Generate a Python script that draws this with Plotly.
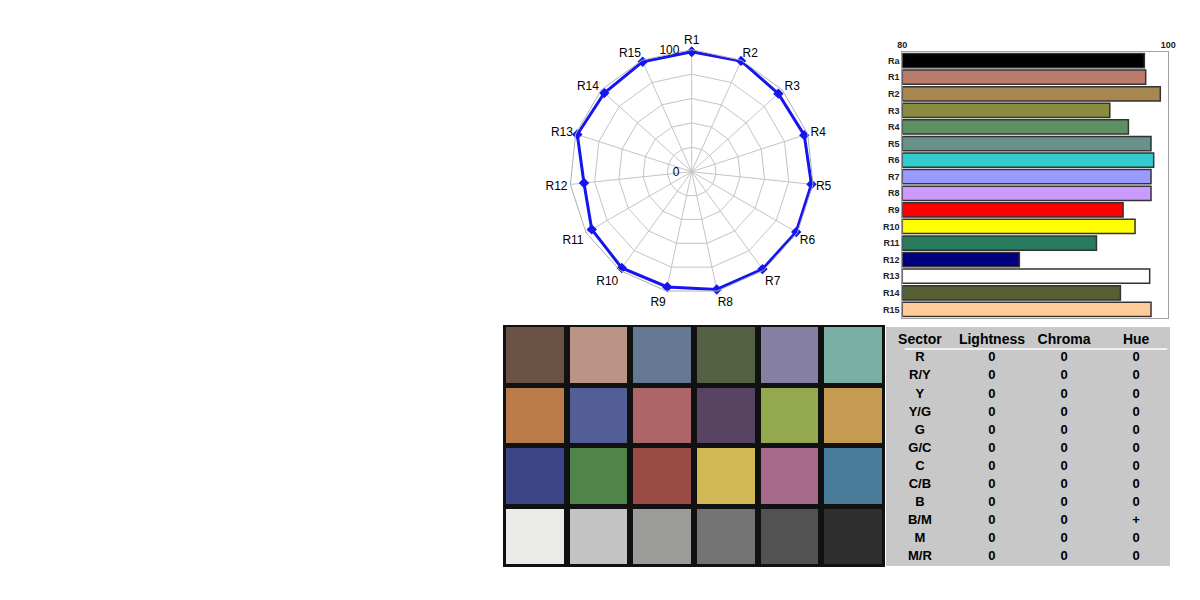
import plotly.graph_objects as go

# ---------------- data ----------------
radar_cats = ["R1", "R2", "R3", "R4", "R5", "R6", "R7", "R8",
              "R9", "R10", "R11", "R12", "R13", "R14", "R15"]
radar_vals = [98.3, 99.4, 95.6, 97.0, 98.7, 98.9, 98.7, 98.7,
              96.6, 97.5, 94.6, 88.8, 98.6, 96.4, 98.7]
radar_ticks = [0, 20, 40, 60, 80, 100]
radar_tick_text = ["0", "", "", "", "", "100"]

bar_cats = ["Ra", "R1", "R2", "R3", "R4", "R5", "R6", "R7", "R8",
            "R9", "R10", "R11", "R12", "R13", "R14", "R15"]
bar_vals = [98.2, 98.3, 99.4, 95.6, 97.0, 98.7, 98.9, 98.7, 98.7,
            96.6, 97.5, 94.6, 88.8, 98.6, 96.4, 98.7]
bar_colors = ["#000000", "#BC7C6C", "#A88650", "#898C3E", "#5E9162", "#679189",
              "#33CCCC", "#9999FF", "#CC99FF", "#FF0000", "#FFFF00", "#287A5C",
              "#000080", "#FFFFFF", "#565F33", "#FFCC99"]

patch_colors = [
    ["#6B5044", "#BA9585", "#657891", "#536142", "#857FA1", "#78AFA2"],
    ["#BA7A4A", "#535E96", "#AD6668", "#574462", "#94A84F", "#C69A50"],
    ["#3B4585", "#50844B", "#9B4B45", "#D0B855", "#A86A8A", "#4A7D9B"],
    ["#EBEBE9", "#C3C3C3", "#9C9C9B", "#737373", "#525252", "#2E2E2E"],
]

table_headers = ["Sector", "Lightness", "Chroma", "Hue"]
sectors = ["R", "R/Y", "Y", "Y/G", "G", "G/C", "C", "C/B", "B", "B/M", "M", "M/R"]
lightness = ["0", "0", "0", "0", "0", "0", "0", "0", "0", "0", "0", "0"]
chroma = ["0", "0", "0", "0", "0", "0", "0", "0", "0", "0", "0", "0"]
hue = ["0", "0", "0", "0", "0", "0", "0", "0", "0", "+", "0", "0"]

FONT = "Liberation Sans, Arial, sans-serif"
W, H = 1200, 600
PAD = "\u00a0\u00a0\u00a0"  # keeps radial tick labels clear of the axis

def dx(a, b):
    return [a / W, b / W]

def dy(top, bottom):
    return [1 - bottom / H, 1 - top / H]

fig = go.Figure()

# ---------------- radar ----------------
fig.add_trace(go.Scatterpolar(
    r=radar_vals + radar_vals[:1],
    theta=radar_cats + radar_cats[:1],
    mode="lines+markers",
    line=dict(color="#1515F0", width=3),
    marker=dict(symbol="diamond", size=8, color="#1515F0"),
    showlegend=False,
    hoverinfo="r+theta",
))

# ---------------- bar chart ----------------
fig.add_trace(go.Bar(
    y=bar_cats,
    x=[v - 80 for v in bar_vals],
    base=80,
    orientation="h",
    marker=dict(color=bar_colors, line=dict(color="#333333", width=1.5)),
    xaxis="x", yaxis="y",
    showlegend=False,
    customdata=bar_vals,
    hovertemplate="%{y}: %{customdata}<extra></extra>",
))

# ---------------- colour checker ----------------
flat_colors = [c for row in patch_colors for c in row]
n = len(flat_colors)
colorscale = [[k / (n - 1), c] for k, c in enumerate(flat_colors)]
z = [[r * len(patch_colors[0]) + c for c in range(len(patch_colors[0]))]
     for r in range(len(patch_colors))]
fig.add_trace(go.Heatmap(
    z=z,
    x=list(range(len(patch_colors[0]))),
    y=list(range(len(patch_colors))),
    colorscale=colorscale,
    zmin=0, zmax=n - 1,
    showscale=False,
    xgap=6, ygap=5,
    xaxis="x2", yaxis="y2",
    hoverinfo="skip",
))

# ---------------- table ----------------
fig.add_trace(go.Scatter(
    x=list(range(len(table_headers))),
    y=[0] * len(table_headers),
    text=table_headers,
    mode="text",
    textfont=dict(family=FONT, size=14, color="#000000", weight="bold"),
    xaxis="x3", yaxis="y3",
    showlegend=False, hoverinfo="skip",
))
for ci, col in enumerate([sectors, lightness, chroma, hue]):
    fig.add_trace(go.Scatter(
        x=[ci] * len(col),
        y=list(range(1, len(col) + 1)),
        text=col,
        mode="text",
        textfont=dict(family=FONT, size=13, color="#000000", weight="bold"),
        xaxis="x3", yaxis="y3",
        showlegend=False, hoverinfo="skip",
    ))

fig.update_layout(
    width=W, height=H,
    margin=dict(l=0, r=0, t=0, b=0, autoexpand=False),
    paper_bgcolor="white",
    plot_bgcolor="white",
    font=dict(family=FONT, color="#000000"),
    polar=dict(
        domain=dict(x=dx(569.7, 813.7), y=dy(49.7, 293.7)),
        bgcolor="white",
        gridshape="linear",
        angularaxis=dict(
            rotation=90, direction="clockwise",
            categoryarray=radar_cats, type="category",
            tickfont=dict(family=FONT, size=12, color="#000000"),
            showline=True, linecolor="#B0B0B0", linewidth=1,
            gridcolor="#C4C4C4", ticks="",
        ),
        radialaxis=dict(
            range=[0, 100], angle=90, side="counterclockwise",
            tickvals=radar_ticks,
            ticktext=[t + PAD if t else t for t in radar_tick_text],
            tickangle=90,
            tickfont=dict(family=FONT, size=12, color="#000000"),
            showline=False, gridcolor="#C4C4C4", ticks="",
        ),
    ),
    xaxis=dict(
        domain=dx(902.3, 1168.3), range=[80, 100], side="top",
        tickvals=[80, 100], ticktext=["80", "100"],
        tickfont=dict(family=FONT, size=9, color="#222222", weight="bold"),
        showgrid=False, zeroline=False,
        showline=True, mirror=True, linecolor="#A0A0A0", linewidth=1,
        anchor="y", fixedrange=True, automargin=False,
    ),
    yaxis=dict(
        domain=dy(52.3, 317.7), type="category",
        categoryarray=bar_cats, autorange="reversed",
        tickfont=dict(family=FONT, size=9, color="#222222", weight="bold"),
        showgrid=False, zeroline=False,
        showline=True, mirror=True, linecolor="#A0A0A0", linewidth=1,
        anchor="x", ticks="", fixedrange=True, automargin=False,
    ),
    bargap=0.14,
    xaxis2=dict(
        domain=dx(503, 885), range=[-0.5, 5.5], visible=False,
        anchor="y2", fixedrange=True, automargin=False,
    ),
    yaxis2=dict(
        domain=dy(325, 567), range=[3.5, -0.5], visible=False,
        anchor="x2", fixedrange=True, automargin=False,
    ),
    xaxis3=dict(
        domain=dx(886, 1170), range=[-0.47, 3.47], visible=False,
        anchor="y3", fixedrange=True, automargin=False,
    ),
    yaxis3=dict(
        domain=dy(327, 566), range=[12.49, -0.72], visible=False,
        anchor="x3", fixedrange=True, automargin=False,
    ),
    shapes=[
        dict(type="rect", xref="x2 domain", yref="y2 domain",
             x0=0, x1=1, y0=0, y1=1, fillcolor="#111111",
             line=dict(width=0), layer="below"),
        dict(type="rect", xref="x3 domain", yref="y3 domain",
             x0=0, x1=1, y0=0, y1=1, fillcolor="#C8C8C8",
             line=dict(width=0), layer="below"),
        dict(type="line", xref="x3", yref="y3",
             x0=-0.21, x1=3.43, y0=0.5, y1=0.5,
             line=dict(color="#FFFFFF", width=1.5), layer="above"),
    ],
)

fig.write_html("out.html",
               config={"displayModeBar": False},
               post_script="document.body.style.margin='0';document.body.style.overflow='hidden';")
